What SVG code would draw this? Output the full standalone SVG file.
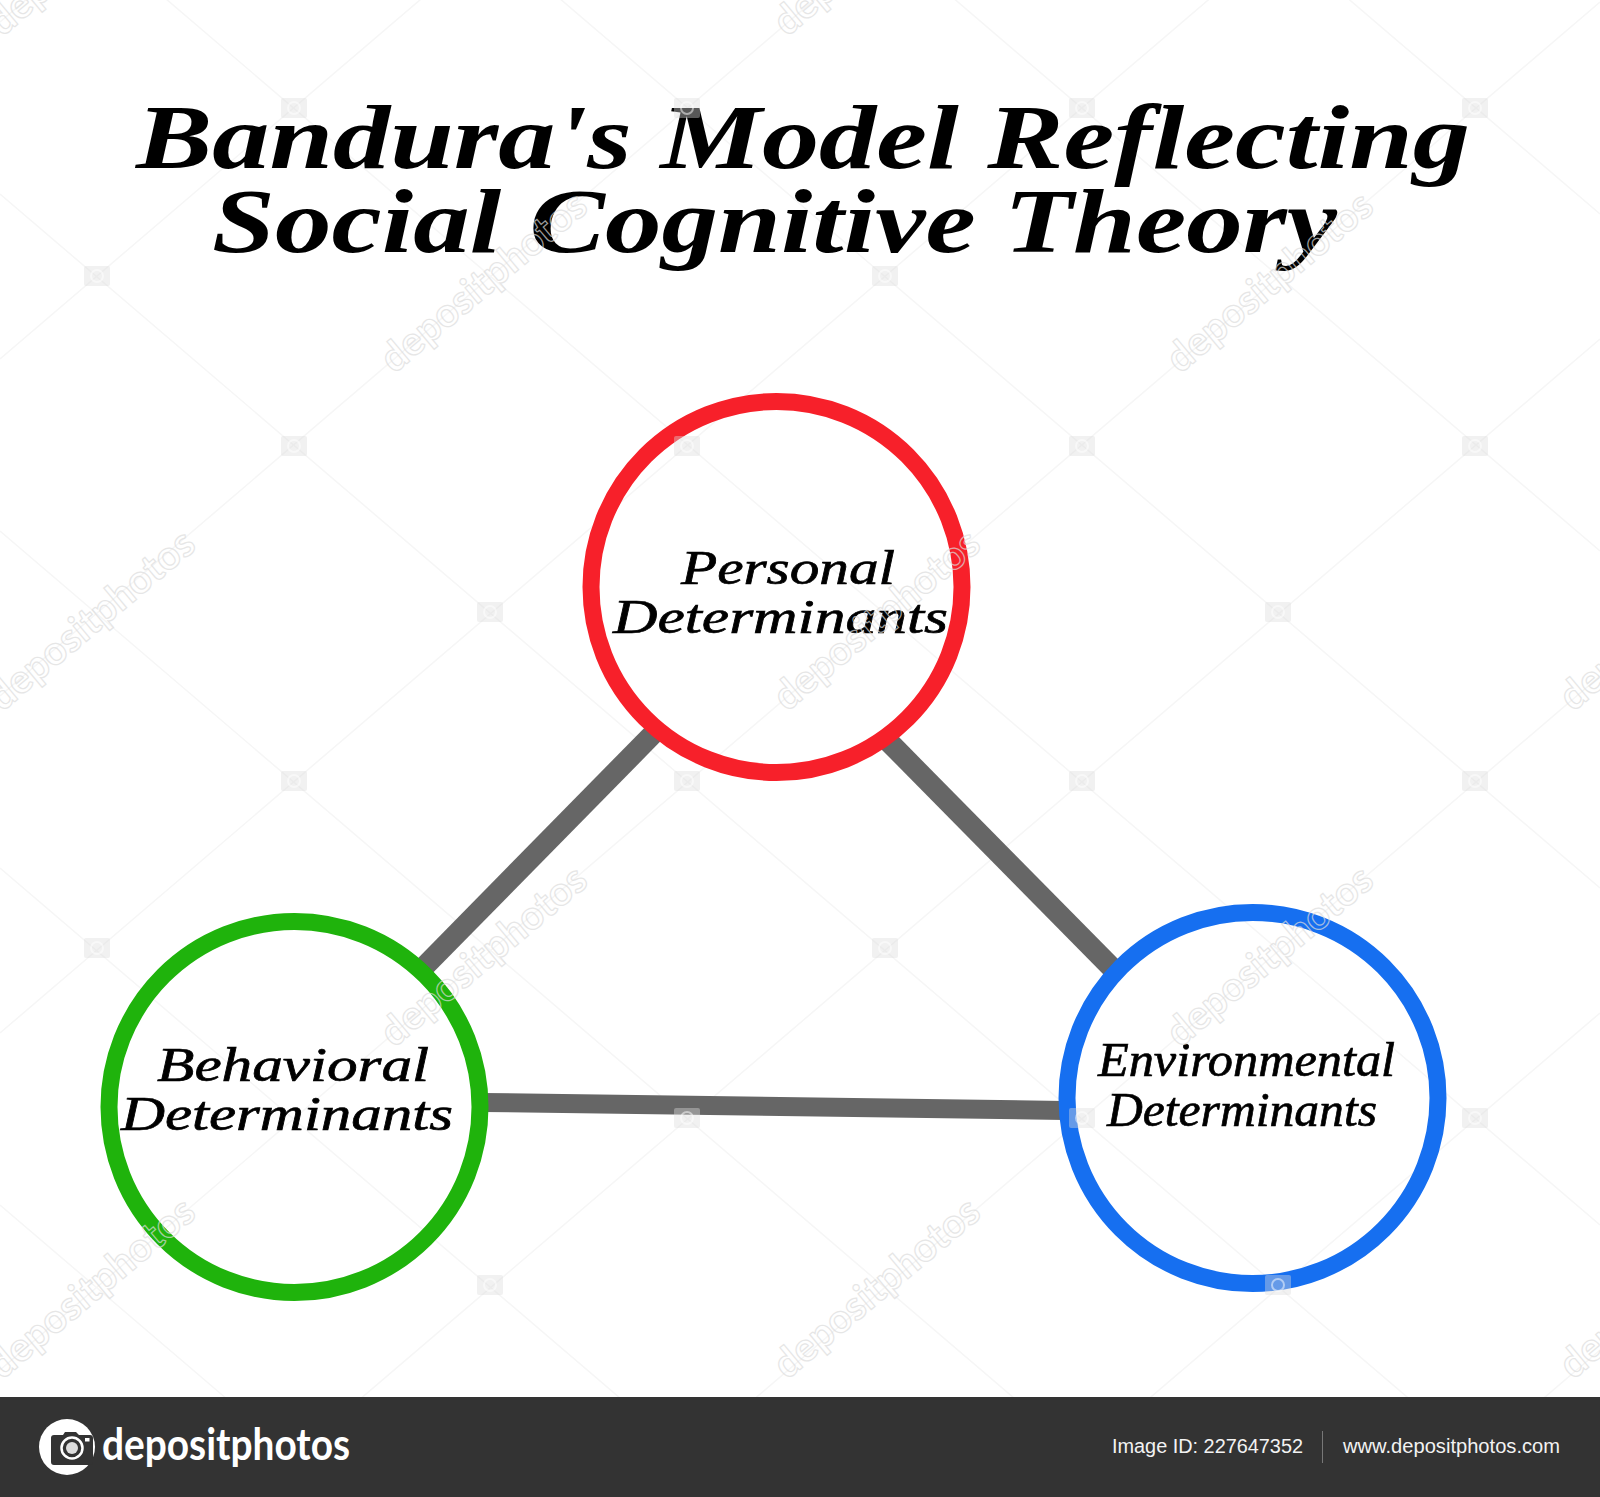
<svg xmlns="http://www.w3.org/2000/svg" width="1600" height="1497" viewBox="0 0 1600 1497">
<style>
.title{font-family:"Liberation Serif","DejaVu Serif",serif;font-style:italic;font-weight:700;font-size:92px;fill:#000}
.label{font-family:"Liberation Serif","DejaVu Serif",serif;font-style:italic;font-weight:400;font-size:48px;fill:#000;stroke:#000;stroke-width:.7}
.ring{fill:none;stroke-width:17}
.conn{stroke:#666;stroke-width:19;fill:none}
.diag{stroke-width:21}
.mesh{stroke:#f6f6f6;stroke-width:1.5;fill:none}
.wm{font-family:"Lato","Open Sans",sans-serif;font-size:40px;font-weight:700;fill:none;stroke:#dcdcdc;stroke-width:1.2;opacity:.7}
.foot{font-family:"Liberation Sans",Arial,sans-serif;font-size:20px;fill:#f2f2f2}
</style>
<defs>
<g id="cam">
<rect x="-13" y="-10" width="26" height="20" rx="2" fill="#dcdcdc" opacity=".4"/>
<circle r="6" fill="none" stroke="#fff" stroke-width="2" opacity=".5"/>
</g>
</defs>
<rect width="1600" height="1497" fill="#fff"/>
<g id="watermark-mesh" class="mesh">
<path d="M0-1154 1600 214M0-817 1600 551M0-480 1600 888M0-143 1600 1225M0 194 1600 1562M0 531 1600 1899M0 868 1600 2236M0 1205 1600 2573"/>
<path d="M0 22 1600-1346M0 359 1600-1009M0 696 1600-672M0 1033 1600-335M0 1370 1600 2M0 1707 1600 339M0 2044 1600 676M0 2381 1600 1013M0 2718 1600 1350"/>
</g>
<g id="connectors">
<line class="conn diag" x1="653" y1="734" x2="423" y2="968"/>
<line class="conn diag" x1="888" y1="741" x2="1113" y2="969"/>
<line class="conn" x1="483" y1="1102.5" x2="1064" y2="1110.5"/>
</g>
<g id="title">
<text class="title" x="136" y="168" textLength="1334" lengthAdjust="spacingAndGlyphs">Bandura's Model Reflecting</text>
<text class="title" x="212" y="252" textLength="1125" lengthAdjust="spacingAndGlyphs">Social Cognitive Theory</text>
</g>
<g id="node-personal">
<circle class="ring" cx="776.5" cy="587" r="185.5" stroke="#f7202a"/>
<text class="label" x="681" y="584" textLength="214" lengthAdjust="spacingAndGlyphs">Personal</text>
<text class="label" x="613" y="633" textLength="335" lengthAdjust="spacingAndGlyphs">Determinants</text>
</g>
<g id="node-behavioral">
<circle class="ring" cx="294.5" cy="1107" r="185.5" stroke="#1fb30c"/>
<text class="label" x="157" y="1081" textLength="272" lengthAdjust="spacingAndGlyphs">Behavioral</text>
<text class="label" x="121" y="1130" textLength="332" lengthAdjust="spacingAndGlyphs">Determinants</text>
</g>
<g id="node-environmental">
<circle class="ring" cx="1252.5" cy="1098" r="185.5" stroke="#166ff0"/>
<text class="label" x="1098" y="1076" textLength="297" lengthAdjust="spacingAndGlyphs">Environmental</text>
<text class="label" x="1107" y="1126" textLength="270" lengthAdjust="spacingAndGlyphs">Determinants</text>
</g>
<g id="watermark">
<g text-anchor="middle">
<text class="wm" transform="translate(100 630) rotate(-40)">depositphotos</text>
<text class="wm" transform="translate(885 630) rotate(-40)">depositphotos</text>
<text class="wm" transform="translate(492 292) rotate(-40)">depositphotos</text>
<text class="wm" transform="translate(1278 292) rotate(-40)">depositphotos</text>
<text class="wm" transform="translate(492 966) rotate(-40)">depositphotos</text>
<text class="wm" transform="translate(1278 966) rotate(-40)">depositphotos</text>
<text class="wm" transform="translate(100 1298) rotate(-40)">depositphotos</text>
<text class="wm" transform="translate(885 1298) rotate(-40)">depositphotos</text>
<text class="wm" transform="translate(1671 630) rotate(-40)">depositphotos</text>
<text class="wm" transform="translate(1671 1298) rotate(-40)">depositphotos</text>
<text class="wm" transform="translate(100 -45) rotate(-40)">depositphotos</text>
<text class="wm" transform="translate(885 -45) rotate(-40)">depositphotos</text>
</g>
<use href="#cam" x="294" y="108"/><use href="#cam" x="687" y="108"/><use href="#cam" x="1082" y="108"/><use href="#cam" x="1475" y="108"/>
<use href="#cam" x="294" y="446"/><use href="#cam" x="687" y="446"/><use href="#cam" x="1082" y="446"/><use href="#cam" x="1475" y="446"/>
<use href="#cam" x="294" y="781"/><use href="#cam" x="687" y="781"/><use href="#cam" x="1082" y="781"/><use href="#cam" x="1475" y="781"/>
<use href="#cam" x="687" y="1118"/><use href="#cam" x="1082" y="1118"/><use href="#cam" x="1475" y="1118"/>
<use href="#cam" x="97" y="276"/><use href="#cam" x="885" y="276"/>
<use href="#cam" x="490" y="612"/><use href="#cam" x="1278" y="612"/>
<use href="#cam" x="97" y="948"/><use href="#cam" x="885" y="948"/>
<use href="#cam" x="490" y="1285"/><use href="#cam" x="1278" y="1285"/>
</g>
<g id="footer">
<rect y="1397" width="1600" height="100" fill="#333"/>
<g id="logo">
<circle cx="67" cy="1447" r="28" fill="#fff"/>
<path d="M54 1435H63L65 1432H76L79 1435H90Q93 1435 93 1438V1462Q93 1465 90 1465H54Q51 1465 51 1462V1438Q51 1435 54 1435Z" fill="#333"/>
<circle cx="72" cy="1448" r="10.5" fill="none" stroke="#fff" stroke-width="2.5"/>
<circle cx="72" cy="1448" r="6" fill="#ddd"/>
<rect x="85" y="1438" width="4.5" height="3.5" fill="#fff"/>
<text x="102" y="1460" font-family="Lato,'Open Sans',sans-serif" font-weight="700" font-size="43" fill="#fff" textLength="248" lengthAdjust="spacingAndGlyphs">depositphotos</text>
</g>
<text class="foot" x="1112" y="1453" textLength="191" lengthAdjust="spacingAndGlyphs">Image ID: 227647352</text>
<line x1="1322.5" y1="1431" x2="1322.5" y2="1463" stroke="#777" stroke-width="1"/>
<text class="foot" x="1343" y="1453" textLength="217" lengthAdjust="spacingAndGlyphs">www.depositphotos.com</text>
</g>
</svg>
